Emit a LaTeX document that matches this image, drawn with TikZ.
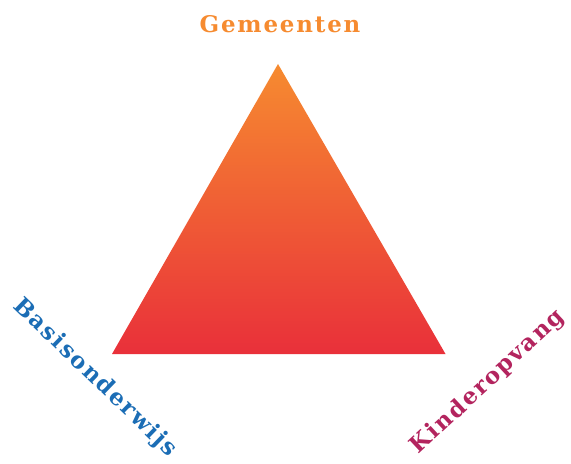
\documentclass[tikz,border=0pt]{standalone}
\usepackage{fontspec}
\setmainfont{DejaVu Serif}[LetterSpace=8,BoldFont={DejaVu Serif Bold}]
\definecolor{topor}{HTML}{F68B30}
\definecolor{botred}{HTML}{E9303A}
\definecolor{blauw}{HTML}{1B6DB5}
\definecolor{paars}{HTML}{B3245E}
\tikzset{lbl/.style={font=\fontsize{23}{27}\selectfont\bfseries, inner sep=0pt}}
\begin{document}
\begin{tikzpicture}[x=1bp,y=-1bp]
\useasboundingbox (0,0) rectangle (571,464);
\coordinate (apex) at (278,64);
\coordinate (bl) at (112,354);
\coordinate (br) at (445.5,354);
\shade[top color=topor, bottom color=botred] (apex) -- (br) -- (bl) -- cycle;
\node[lbl, text=topor] (gem) at (280,24) {Gemeenten};
\node[lbl, text=blauw, rotate=-44] (bas) at (95,378) {Basisonderwijs};
\node[lbl, text=paars, rotate=43] (kin) at (488,382) {Kinderopvang};
\end{tikzpicture}
\end{document}
